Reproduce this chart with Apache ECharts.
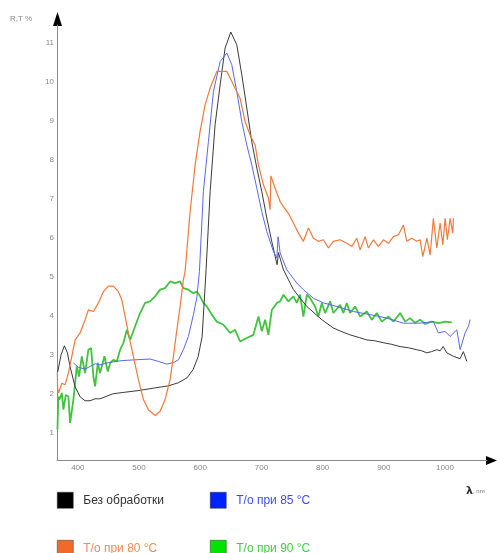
<!DOCTYPE html>
<html><head><meta charset="utf-8">
<script src="https://cdn.jsdelivr.net/npm/echarts@6/dist/echarts.min.js"></script>
<style>html,body{margin:0;padding:0;background:#fff}#c{width:497px;height:553px}</style>
</head><body><div id="c"></div>
<script>
var seriesNames = ['Без обработки', 'Т/о при 85 °C', 'Т/о при 80 °C', 'Т/о при 90 °C'];
var xTicks = [400, 500, 600, 700, 800, 900, 1000];
var yTicks = [1, 2, 3, 4, 5, 6, 7, 8, 9, 10, 11];

var blackData = [[367,2.55],[372.7,3.0],[378.1,3.23],[383,3.05],[387.4,2.69],[395.6,2.18],[403.8,1.92],[412,1.82],[420,1.82],[428,1.87],[436,1.87],[444.6,1.92],[457.7,2.0],[472.4,2.03],[498.5,2.08],[526.3,2.15],[547.5,2.2],[563.9,2.28],[578.6,2.41],[588.4,2.62],[596.6,2.95],[603.1,3.46],[606.4,4.33],[609.6,5.18],[616.2,7.18],[624.3,8.9],[632.5,9.92],[640.7,10.87],[650,11.28],[659.8,10.95],[668,10.18],[676.1,9.33],[684.3,8.46],[692.5,7.79],[700.7,7.18],[708.8,6.51],[717,5.9],[725.6,5.31],[727.8,5.62],[736,5.18],[752.3,4.67],[774.2,4.24],[798.7,3.9],[817.2,3.69],[830,3.6],[845,3.51],[860,3.44],[872.2,3.38],[885,3.36],[898.9,3.31],[912,3.27],[926.6,3.21],[940,3.18],[953.9,3.13],[962,3.1],[970.3,3.05],[978,3.08],[986.6,3.13],[992,3.1],[996.9,3.21],[1003,3.05],[1013.7,2.96],[1024.7,2.9],[1030,3.08],[1035.6,2.83]];

var blueData = [[392.8,2.79],[401,2.68],[411.9,2.63],[420.1,2.7],[428.3,2.77],[436.4,2.74],[450,2.8],[471.9,2.85],[493.6,2.87],[518.1,2.89],[531.7,2.83],[545.4,2.76],[556.2,2.8],[564.4,2.87],[572.5,3.13],[580.7,3.47],[588.9,4.03],[594.4,4.46],[598.7,5.13],[605.2,7.19],[613.4,8.47],[621.6,9.75],[632.5,10.52],[643.5,10.74],[651.6,10.44],[659.8,9.75],[668,8.98],[676.1,8.38],[684.3,7.87],[692.5,7.27],[700.7,6.67],[708.8,6.16],[719.6,5.65],[725.2,5.48],[727.3,6.03],[730.6,5.61],[741.5,5.18],[757.8,4.84],[768.6,4.67],[785,4.45],[801.3,4.33],[823.2,4.24],[850.3,4.11],[877.6,4.03],[904.9,3.94],[932,3.81],[959.3,3.81],[981,3.85],[989.2,3.56],[1000.2,3.6],[1008.3,3.47],[1019.3,3.64],[1024.7,3.13],[1027.5,3.08],[1032.8,3.56],[1038.2,3.73],[1041,3.9]];

var orangeData = [[366.5,2.55],[367,2.15],[368.5,2.02],[373.9,2.27],[379.2,2.23],[384.6,2.53],[390.2,2.96],[395.6,3.38],[403.8,3.56],[411.9,3.9],[417.3,4.15],[425.5,4.11],[433.7,4.33],[441.8,4.62],[450,4.76],[458.2,4.76],[466.3,4.62],[471.9,4.41],[477.3,3.98],[483.8,3.47],[490.8,2.96],[499,2.36],[507.2,1.85],[515.4,1.59],[526.3,1.44],[534.5,1.55],[542.6,1.85],[550.8,2.36],[556.2,2.96],[561.8,3.64],[567.2,4.24],[572.5,4.92],[575.3,5.14],[583.5,6.67],[591.7,7.87],[599.8,8.73],[608,9.41],[616.2,9.84],[621.6,10.05],[627.1,10.27],[635.3,10.27],[643.5,10.27],[648.9,10.1],[657,9.84],[665.2,9.58],[673.4,8.98],[681.5,8.64],[689.7,8.38],[695.1,7.87],[703.3,7.36],[711.4,7.02],[714.2,6.72],[715.4,7.59],[722.4,7.27],[730.6,6.93],[736,6.8],[744.1,6.63],[752.3,6.38],[760.5,6.12],[768.6,5.91],[776.8,6.25],[785,5.99],[793.1,5.91],[801.3,5.95],[809.5,5.74],[817.6,5.91],[828.6,5.95],[839.5,5.86],[847.7,5.78],[855.9,5.99],[861.3,5.69],[869.4,6.03],[874.8,5.74],[883,5.95],[891.2,5.78],[899.3,5.95],[907.5,5.86],[915.7,6.03],[923.9,6.08],[932,6.33],[937.6,5.91],[945.8,5.99],[953.9,5.91],[959.3,5.95],[963.7,5.52],[970.3,5.99],[975.7,5.56],[981,6.5],[986.6,5.74],[992,6.38],[996.4,5.82],[1000.2,6.5],[1003.9,5.95],[1008.3,6.5],[1012.7,6.12],[1013.7,6.5]];

var greenData = [[366.7,1.08],[368.3,1.93],[370,1.85],[373.9,2.02],[376.5,1.59],[380.4,1.97],[384.6,1.93],[387.4,1.25],[392.8,1.85],[398.4,2.7],[402.1,2.44],[406.5,2.96],[411.9,2.53],[417.3,3.13],[421.7,3.17],[425.5,2.44],[428.3,2.19],[432.7,2.79],[436.4,2.53],[443.5,2.96],[449,2.57],[452.8,2.79],[458.2,2.87],[463.7,2.83],[469.1,3.13],[474.5,3.3],[480.1,3.64],[485.5,3.38],[493.6,3.73],[501.8,4.07],[510,4.33],[518.1,4.37],[526.3,4.5],[534.5,4.67],[542.6,4.71],[550.8,4.88],[559,4.84],[567.2,4.88],[572.5,4.71],[580.7,4.67],[588.9,4.58],[594.4,4.62],[599.8,4.5],[605.2,4.33],[610.8,4.24],[618.9,4.03],[627.1,3.85],[637.9,3.77],[648.9,3.56],[657,3.64],[665.2,3.34],[676.1,3.43],[686.9,3.51],[695.1,3.98],[700.7,3.6],[706,3.9],[711.4,3.51],[717,4.15],[725.2,4.33],[730.6,4.37],[736,4.54],[744.1,4.37],[752.3,4.5],[757.8,4.33],[763.2,4.54],[768.6,3.98],[774.2,4.54],[779.6,4.45],[787.7,4.24],[793.1,3.98],[798.7,4.33],[804.1,4.07],[812.3,4.37],[817.6,4.07],[828.6,4.28],[834,4.07],[839.5,4.33],[844.9,4.07],[853.1,4.24],[861.3,3.98],[872.2,4.11],[880.4,3.9],[888.6,4.07],[896.7,3.85],[907.5,3.98],[915.7,3.85],[926.6,4.07],[934.8,3.85],[943,3.94],[951.1,3.82],[959.3,3.9],[967.5,3.79],[978.4,3.85],[989.2,3.81],[1000.2,3.85],[1011.1,3.83]];

var lineColors = ['#3a3a3a', '#5868e8', '#f07a3c', '#40c440'];
var squareColors = ['#000000', '#0022ff', '#f06a2a', '#00e400'];
var textColors = ['#333333', '#3b4cf0', '#f08a5a', '#44cc44'];
var legendPos = [[57, 492], [210, 492], [57, 540], [210, 540]];

var chart = echarts.init(document.getElementById('c'), null, {renderer: 'canvas'});
var datas = [blackData, blueData, orangeData, greenData];
var widths = [1, 1, 1.2, 1.8];
var font = 'Liberation Sans, Arial, sans-serif';

var legends = seriesNames.map(function (n, i) {
  return {
    left: legendPos[i][0], top: legendPos[i][1], orient: 'horizontal',
    itemWidth: 16, itemHeight: 16, itemGap: 0, padding: 0,
    selectedMode: false,
    data: [{name: n, icon: 'rect', itemStyle: {color: squareColors[i], borderColor: '#333', borderWidth: 0.5},
      textStyle: {color: textColors[i], fontSize: 12, fontFamily: font, padding: [0, 0, 0, 5]}}]
  };
});

chart.setOption({
  animation: false,
  backgroundColor: '#fff',
  grid: {left: 57, right: 10, top: 25, bottom: 93, containLabel: false},
  legend: legends,
  xAxis: {
    type: 'value', min: 366, max: 1068.6,
    axisLine: {show: true, lineStyle: {color: '#8a8a8a', width: 1}},
    axisTick: {show: false},
    splitLine: {show: false},
    axisLabel: {customValues: xTicks, color: '#888', fontSize: 8, margin: 4, fontFamily: font,
      formatter: function (v) { return String(v); }}
  },
  yAxis: {
    type: 'value', min: 0.3, max: 11.46,
    axisLine: {show: true, lineStyle: {color: '#8a8a8a', width: 1}},
    axisTick: {show: false},
    splitLine: {show: false},
    axisLabel: {customValues: yTicks, color: '#888', fontSize: 8, margin: 3, fontFamily: font,
      formatter: function (v) { return String(v); }}
  },
  graphic: [
    {type: 'polygon', shape: {points: [[57.5, 12], [53, 26], [62, 26]]}, style: {fill: '#000'}},
    {type: 'polygon', shape: {points: [[497, 460.5], [486, 456], [486, 465]]}, style: {fill: '#000'}},
    {type: 'text', left: 10, top: 15, style: {text: 'R,T %', fill: '#888', fontSize: 8, fontFamily: font}},
    {type: 'text', left: 466, top: 486, style: {text: '{a|λ}{b|, nm}', rich: {a: {fontSize: 11, fontWeight: 'bold', fill: '#333', fontFamily: 'DejaVu Sans'}, b: {fontSize: 6, fill: '#666', fontFamily: font}}}}
  ],
  series: seriesNames.map(function (n, i) {
    return {
      name: n, type: 'line', data: datas[i], showSymbol: false, symbol: 'none',
      lineStyle: {color: lineColors[i], width: widths[i]},
      itemStyle: {color: squareColors[i]},
      z: i === 3 ? 1 : 2
    };
  })
});
</script></body></html>
